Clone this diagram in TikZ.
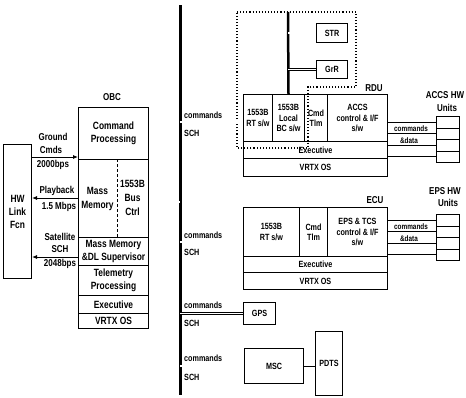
\documentclass[tikz,border=0pt]{standalone}
\usepackage{fontspec}
\setmainfont[FakeStretch=0.8]{Liberation Sans Bold}
\usetikzlibrary{arrows.meta,calc}
\begin{document}
\begin{tikzpicture}[x=1pt,y=-1pt,
  obcbox/.style={draw,line width=1pt,inner sep=0pt,anchor=north west,align=center,font=\fontsize{10.5}{13}\selectfont},
  obctext/.style={inner sep=0pt,align=center,font=\fontsize{10.5}{14}\selectfont},
  cell/.style={draw,line width=1pt,inner sep=0pt,anchor=north west,align=center,font=\fontsize{9}{10.5}\selectfont},
  ubox/.style={draw,line width=0.9pt,inner sep=0pt,anchor=north west,minimum width=23pt,minimum height=11.5pt},
  lbl/.style={inner sep=0pt,font=\fontsize{10}{10}\selectfont},
  sl/.style={inner sep=0pt,font=\fontsize{10}{10}\selectfont},
  sm/.style={inner sep=0pt,font=\fontsize{8}{9}\selectfont},
  cl/.style={inner sep=0pt,anchor=west,font=\fontsize{9}{9}\selectfont},
  arr/.style={line width=0.8pt,-{Latex[length=5pt,width=4pt]}},
  dbl/.style={double,double distance=1.4pt,line width=0.7pt},
  thinl/.style={line width=0.7pt}]
\useasboundingbox (0,0) rectangle (466,397);

% ---------- OBC ----------
\node[lbl] (obcL) at (112,97) {OBC};
\node[obcbox,minimum width=70pt,minimum height=52pt] (obcCP) at (78,107) {Command\\Processing};
\node[obcbox,minimum width=70pt,minimum height=78pt] (obcMid) at (78,159) {};
\node[obctext] (obcMM) at (97.5,199) {Mass\\Memory};
\node[obctext] (obcBC) at (132.5,198) {1553B\\Bus\\Ctrl};
\draw[densely dashed,line width=0.8pt] ($(obcMid.north west)+(39,0)$) -- ($(obcMid.south west)+(39,0)$);
\node[obcbox,minimum width=70pt,minimum height=28pt] (obcMD) at (78,237) {Mass Memory\\\&DL Supervisor};
\node[obcbox,minimum width=70pt,minimum height=30pt] (obcTP) at (78,265) {Telemetry\\Processing};
\node[obcbox,minimum width=70pt,minimum height=18pt] (obcEX) at (78,295) {Executive};
\node[obcbox,minimum width=70pt,minimum height=15pt] (obcOS) at (78,313) {VRTX OS};

% ---------- HW Link ----------
\node[obcbox,minimum width=28pt,minimum height=134pt] (hw) at (3,144) {HW\\Link\\Fcn};

\coordinate (yG) at (0,157);
\coordinate (yP) at (0,198);
\coordinate (yS) at (0,257);
\draw[arr] (hw.east |- yG) -- (obcCP.west |- yG);
\draw[arr] (obcMid.west |- yP) -- (hw.east |- yP);
\draw[arr] (obcMD.west |- yS) -- (hw.east |- yS);
\node[sl] (g1) at (53,137) {Ground};
\node[sl] (g2) at (51,150) {Cmds};
\node[sl] (g3) at (53,165) {2000bps};
\node[sl] (p1) at (57,191) {Playback};
\node[sl] (p2) at (59,207) {1.5 Mbps};
\node[sl] (s1) at (60,237) {Satellite};
\node[sl] (s2) at (60,249) {SCH};
\node[sl] (s3) at (60,264) {2048bps};

% ---------- main bus ----------
\coordinate (busT) at (180,5);
\coordinate (busB) at (180,395);
\draw[line width=3pt] (busT) -- (busB);
\coordinate (yO) at (0,202);
\draw[dbl] (obcMid.east |- yO) -- (busT |- yO);

% ---------- RDU ----------
\draw[dotted,line width=1.1pt] (237,12) -- (356,12) -- (356,87) -- (308,87) -- (308,148) -- (237,148) -- cycle;
\node[lbl] (rduL) at (374,88) {RDU};
\node[cell,minimum width=29pt,minimum height=47pt] (rRT) at (243,94) {1553B\\RT s/w};
\node[cell,minimum width=32pt,minimum height=47pt] (rBC) at (272,94) {1553B\\Local\\BC s/w};
\node[cell,minimum width=23pt,minimum height=47pt] (rCT) at (304,94) {Cmd\\Tlm};
\node[cell,minimum width=60pt,minimum height=47pt] (rAC) at (327,94) {ACCS\\control \& I/F\\s/w};
\node[cell,minimum width=144pt,minimum height=17pt] (rEX) at (243,141) {Executive};
\node[cell,minimum width=144pt,minimum height=18pt] (rOS) at (243,158) {VRTX OS};

\coordinate (lbT) at (288,12);
\draw[line width=2.5pt] (lbT) -- (rBC.north);
\node[cell,minimum width=31pt,minimum height=19pt] (str) at (316,23) {STR};
\node[cell,minimum width=31pt,minimum height=18pt] (grr) at (316,60) {GrR};
\draw[dbl] (lbT |- str.west) -- (str.west);
\draw[dbl] (lbT |- grr.west) -- (grr.west);

\coordinate (yR) at (0,122);
\draw[dbl] (busT |- yR) -- (rRT.west |- yR);
\node[cl] (rc1) at (184,115) {commands};
\node[cl] (rc2) at (184,133) {SCH};

\node[sl] (au) at (445,95) {ACCS HW};
\node[sl] (au0) at (447,108) {Units};
\node[ubox] (au1) at (436,116) {};
\node[ubox] (au2) at (436,127.5) {};
\node[ubox] (au3) at (436,139) {};
\node[ubox] (au4) at (436,150.5) {};
\draw[thinl] (rAC.east |- au1.west) -- (au1.west);
\draw[thinl] (rAC.east |- au2.west) -- (au2.west);
\draw[thinl] (rAC.east |- au3.west) -- (au3.west);
\draw[thinl] (rAC.east |- au4.west) -- (au4.west);
\node[sm] (ac1) at (411,129) {commands};
\node[sm] (ac2) at (409,140.5) {\&data};

% ---------- ECU ----------
\node[lbl] (ecuL) at (375,200) {ECU};
\node[cell,minimum width=56pt,minimum height=49pt] (eRT) at (243,207) {1553B\\RT s/w};
\node[cell,minimum width=28pt,minimum height=49pt] (eCT) at (299,207) {Cmd\\Tlm};
\node[cell,minimum width=60pt,minimum height=49pt] (eEP) at (327,207) {EPS \& TCS\\control \& I/F\\s/w};
\node[cell,minimum width=144pt,minimum height=16pt] (eEX) at (243,256) {Executive};
\node[cell,minimum width=144pt,minimum height=17pt] (eOS) at (243,272) {VRTX OS};

\coordinate (yE) at (0,242);
\draw[dbl] (busT |- yE) -- (eRT.west |- yE);
\node[cl] (ec1) at (184,235) {commands};
\node[cl] (ec2) at (184,252) {SCH};

\node[sl] (eu) at (445,191) {EPS HW};
\node[sl] (eu0) at (448,203) {Units};
\node[ubox] (eu1) at (436,214) {};
\node[ubox] (eu2) at (436,225.5) {};
\node[ubox] (eu3) at (436,237) {};
\node[ubox] (eu4) at (436,248.5) {};
\draw[thinl] (eEP.east |- eu1.west) -- (eu1.west);
\draw[thinl] (eEP.east |- eu2.west) -- (eu2.west);
\draw[thinl] (eEP.east |- eu3.west) -- (eu3.west);
\draw[thinl] (eEP.east |- eu4.west) -- (eu4.west);
\node[sm] (ec3) at (411,227) {commands};
\node[sm] (ec4) at (409,238.5) {\&data};

% ---------- GPS / MSC / PDTS ----------
\node[cell,minimum width=32pt,minimum height=22pt] (gps) at (243,302) {GPS};
\node[cell,minimum width=59pt,minimum height=35pt] (msc) at (244,348) {MSC};
\node[cell,minimum width=27pt,minimum height=64pt] (pdts) at (315,331) {PDTS};
\draw[dbl] (busT |- gps.west) -- (gps.west);
\draw[dbl] (busT |- msc.west) -- (msc.west);
\draw[thinl] (msc.east) -- (msc.east -| pdts.west);
\node[cl] (gc1) at (184,305) {commands};
\node[cl] (gc2) at (184,323) {SCH};
\node[cl] (mc1) at (184,358) {commands};
\node[cl] (mc2) at (184,377) {SCH};
\end{tikzpicture}
\end{document}
